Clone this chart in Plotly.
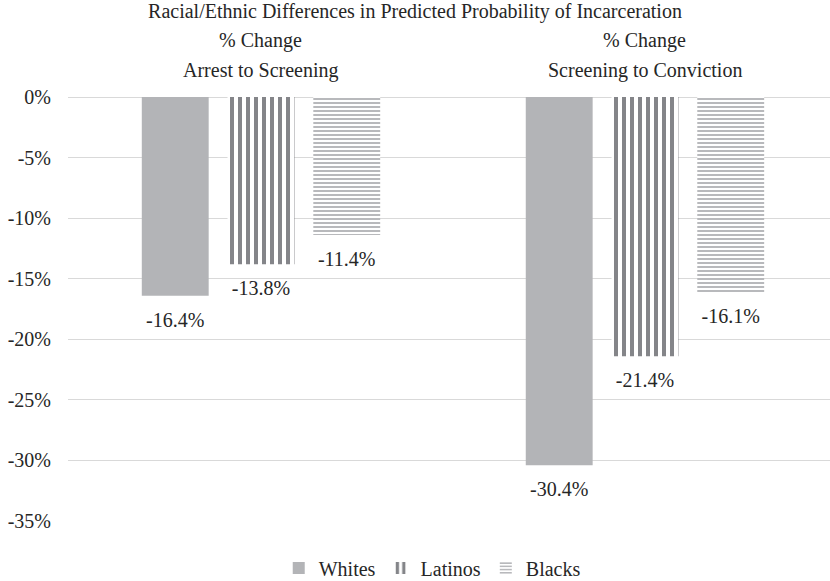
import plotly.graph_objects as go

categories = ["Arrest to Screening", "Screening to Conviction"]
category_labels = ["% Change<br>Arrest to Screening", "% Change<br>Screening to Conviction"]
series_names = ["Whites", "Latinos", "Blacks"]
whites = [-16.4, -30.4]
latinos = [-13.8, -21.4]
blacks = [-11.4, -16.1]
y_ticks = [0, -5, -10, -15, -20, -25, -30, -35]
y_tick_labels = ["0%", "-5%", "-10%", "-15%", "-20%", "-25%", "-30%", "-35%"]

FONT = "Liberation Serif, Times New Roman, serif"
TXT = "#262626"
FS = 20

markers = [
    dict(color="#b3b4b7", line=dict(width=0)),
    dict(color="white", line=dict(width=0),
         pattern=dict(shape="|", fgcolor="#848589", fgopacity=1, bgcolor="white",
                      size=8, solidity=0.5)),
    dict(color="white", line=dict(width=0),
         pattern=dict(shape="-", fgcolor="#b8b9bc", fgopacity=1, bgcolor="white",
                      size=4, solidity=0.5)),
]

fig = go.Figure()
for name, vals, mk in zip(series_names, [whites, latinos, blacks], markers):
    fig.add_trace(go.Bar(name=name, x=categories, y=vals, marker=mk,
                         offsetgroup=name, hoverinfo="skip"))
for name, vals in zip(series_names, [whites, latinos, blacks]):
    fig.add_trace(go.Scatter(
        x=categories, y=vals, mode="markers+text", offsetgroup=name,
        text=[f"{v:.1f}%" for v in vals], textposition="bottom center",
        textfont=dict(family=FONT, size=FS, color=TXT),
        marker=dict(size=24, opacity=0), showlegend=False, hoverinfo="skip",
        cliponaxis=False,
    ))

fig.update_layout(
    width=830, height=581,
    margin=dict(l=68, r=0, t=97, b=60),
    paper_bgcolor="white", plot_bgcolor="white",
    font=dict(family=FONT, size=FS, color=TXT),
    title=dict(text="Racial/Ethnic Differences in Predicted Probability of Incarceration",
               x=0.5, xanchor="center", y=0.993, yanchor="top",
               font=dict(family=FONT, size=FS, color=TXT)),
    barmode="group", bargap=0.33, bargroupgap=0.22,
    scattermode="group", scattergap=0.33,
    showlegend=True,
    legend=dict(orientation="h", x=0.478, xanchor="center",
                yref="container", y=0.056, yanchor="top",
                font=dict(family=FONT, size=FS, color=TXT), itemwidth=30),
    xaxis=dict(side="top", showgrid=False, showline=False, ticks="",
               range=[-0.5026, 1.4819], showticklabels=False),
    yaxis=dict(range=[-35, 0], tickvals=y_ticks, ticktext=y_tick_labels,
               showgrid=True, gridcolor="#d9d9d9", gridwidth=1,
               zeroline=True, zerolinecolor="#d9d9d9", zerolinewidth=1,
               showline=False, ticks="", ticklabelstandoff=16,
               tickfont=dict(family=FONT, size=FS, color=TXT)),
)

for cat, lab in zip(categories, category_labels):
    top, bottom = lab.split("<br>")
    fig.add_annotation(x=cat, xref="x", yref="paper", y=1, yshift=57, text=top,
                       showarrow=False, yanchor="middle",
                       font=dict(family=FONT, size=FS, color=TXT))
    fig.add_annotation(x=cat, xref="x", yref="paper", y=1, yshift=27, text=bottom,
                       showarrow=False, yanchor="middle",
                       font=dict(family=FONT, size=FS, color=TXT))

fig.write_html("out.html")
